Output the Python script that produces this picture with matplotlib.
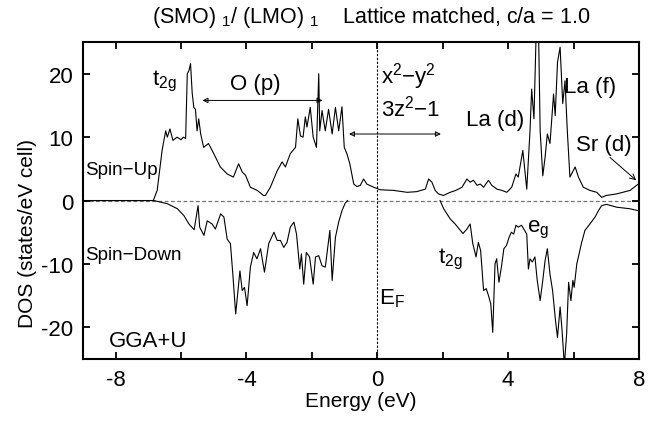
import numpy as np
import matplotlib
matplotlib.use("Agg")
import matplotlib.pyplot as plt
from matplotlib.ticker import MultipleLocator

plt.rcParams['font.family'] = ['Liberation Sans', 'DejaVu Sans']
plt.rcParams['mathtext.fontset'] = 'custom'
plt.rcParams['mathtext.rm'] = 'Liberation Sans'
plt.rcParams['mathtext.it'] = 'Liberation Sans:italic'
plt.rcParams['axes.unicode_minus'] = False

# spin-up DOS (energy in eV, states/eV cell)
e_up = [-9.0, -6.85, -6.73, -6.58, -6.47, -6.42, -6.34, -6.25, -6.12, -6.0, -5.93, -5.86,
        -5.81, -5.76, -5.71, -5.66, -5.61, -5.56, -5.51, -5.46, -5.40, -5.31, -5.16, -5.0,
        -4.8, -4.59, -4.4, -4.24, -4.13, -4.03, -3.88, -3.67, -3.48, -3.42, -3.27, -3.06,
        -2.91, -2.81, -2.66, -2.58, -2.50, -2.43, -2.35, -2.27, -2.20, -2.15, -2.05, -1.96,
        -1.86, -1.79, -1.76, -1.69, -1.59, -1.49, -1.38, -1.28, -1.18, -1.08, -1.01, -0.93,
        -0.84, -0.72, -0.62, -0.52, -0.42, -0.32, -0.11, 0.09, 0.5, 0.91, 1.2, 1.47,
        1.57, 1.67, 1.77, 1.87, 2.02, 2.23, 2.4, 2.59, 2.74, 2.84, 2.94, 3.05,
        3.15, 3.25, 3.40, 3.5, 3.66, 3.81, 3.96, 4.11, 4.24, 4.31, 4.45, 4.57,
        4.67, 4.72, 4.79, 4.86, 4.93, 4.98, 5.06, 5.13, 5.2, 5.28, 5.39, 5.44,
        5.51, 5.59, 5.67, 5.74, 5.81, 5.89, 5.97, 6.05, 6.15, 6.3, 6.5, 6.71,
        6.86, 7.0, 7.32, 7.73, 7.98, 8.0]
dos_up = [0, 0, 1.6, 7.9, 11.0, 10.0, 11.3, 9.5, 10.0, 9.6, 10.0, 9.8,
          20.0, 20.5, 21.6, 17.0, 14.7, 14.4, 11.0, 12.9, 10.5, 8.4, 9.0, 7.4,
          5.3, 4.2, 3.7, 5.8, 4.5, 4.0, 2.1, 1.6, 0.8, 0.8, 2.1, 4.7,
          6.1, 5.3, 7.4, 7.9, 8.4, 12.9, 10.2, 10.0, 13.2, 11.6, 14.7, 10.0,
          8.4, 20.0, 11.0, 14.2, 11.0, 14.4, 10.5, 14.7, 11.0, 14.8, 8.4, 7.4,
          5.8, 2.6, 2.2, 2.4, 3.4, 2.6, 2.1, 1.7, 1.6, 1.3, 1.4, 1.8,
          3.4, 2.9, 1.6, 1.05, 0.8, 1.3, 1.6, 2.1, 3.4, 2.9, 3.2, 2.4,
          2.6, 2.1, 3.2, 2.4, 1.8, 1.6, 1.3, 2.1, 4.2, 3.7, 7.9, 1.8,
          11.0, 17.6, 12.9, 27.0, 27.0, 11.0, 3.9, 6.8, 10.5, 9.0, 16.8, 13.4,
          21.8, 24.2, 15.3, 18.9, 11.0, 3.7, 4.5, 5.3, 3.7, 2.1, 1.6, 1.3,
          0.5, 0.8, 1.05, 1.6, 2.6, 2.6]

# spin-down DOS (gap between -0.91 and 1.92 eV left out)
e_dn = [-9.0, -6.83, -6.42, -6.11, -5.91, -5.76, -5.6, -5.48, -5.43, -5.3, -5.2, -5.05,
        -4.95, -4.79, -4.69, -4.59, -4.49, -4.41, -4.33, -4.2, -4.13, -4.06, -3.98, -3.88,
        -3.78, -3.68, -3.57, -3.45, -3.32, -3.16, -3.06, -2.96, -2.86, -2.76, -2.66, -2.55,
        -2.47, -2.37, -2.32, -2.25, -2.17, -2.07, -1.96, -1.89, -1.79, -1.69, -1.59, -1.45,
        -1.38, -1.28, -1.18, -1.08, -0.98, -0.91, 0.5, 1.92, 2.03, 2.23, 2.38, 2.62,
        2.74, 2.84, 2.92, 3.02, 3.09, 3.16, 3.25, 3.33, 3.40, 3.47, 3.53, 3.6,
        3.65, 3.72, 3.8, 3.87, 3.95, 4.03, 4.1, 4.17, 4.24, 4.31, 4.41, 4.48,
        4.57, 4.62, 4.67, 4.74, 4.82, 4.89, 4.98, 5.06, 5.13, 5.2, 5.28, 5.36,
        5.45, 5.51, 5.59, 5.65, 5.72, 5.79, 5.85, 5.92, 5.98, 6.02, 6.1, 6.25,
        6.35, 6.5, 6.66, 6.76, 6.86, 7.01, 7.32, 7.73, 7.98, 8.0]
dos_dn = [0, 0, -0.5, -1.3, -2.4, -3.7, -4.6, -0.8, -4.2, -5.5, -3.2, -3.7,
          -4.5, -2.1, -2.6, -6.1, -6.8, -12.1, -17.9, -11.1, -14.2, -13.7, -16.6, -10.5,
          -8.2, -9.2, -7.6, -11.3, -6.8, -5.0, -6.3, -6.3, -7.4, -6.6, -4.2, -3.4,
          -5.3, -10.8, -8.4, -13.2, -8.2, -8.9, -13.2, -8.9, -8.7, -10.3, -10.5, -4.7,
          -12.6, -5.8, -3.4, -1.6, -0.4, 0, np.nan, 0, -1.3, -2.9, -3.7, -5.2,
          -4.5, -3.7, -6.8, -8.9, -6.6, -7.9, -14.2, -13.9, -15.0, -16.3, -20.8, -10.0,
          -9.2, -12.9, -10.3, -7.6, -7.1, -5.8, -5.0, -5.3, -3.9, -4.2, -3.9, -4.5,
          -5.3, -10.8, -9.2, -9.7, -8.9, -12.6, -15.8, -12.6, -9.5, -7.6, -11.6, -14.2,
          -19.0, -21.6, -16.8, -20.5, -26.0, -21.0, -12.9, -15.8, -12.6, -13.7, -10.0, -6.6,
          -4.7, -3.7, -2.6, -1.6, -0.8, -0.6, -1.05, -1.3, -1.6, -1.6]

fig = plt.figure(figsize=(6.48, 4.27), dpi=100)
ax = fig.add_axes([0.128, 0.157, 0.858, 0.742])

ax.axhline(0, color='0.45', lw=0.9, ls=(0, (3, 2)), zorder=1)
ax.axvline(0, color='black', lw=0.8, ls=(0, (2, 1.5)), zorder=1)
ax.plot(e_up, dos_up, color='black', lw=0.8, zorder=2)
ax.plot(e_dn, dos_dn, color='black', lw=0.8, zorder=2)

ax.set_xlim(-9, 8)
ax.set_ylim(-25, 25)
ax.set_xticks([-8, -4, 0, 4, 8])
ax.xaxis.set_minor_locator(MultipleLocator(2))
ax.set_yticks([-20, -10, 0, 10, 20])
ax.tick_params(which='both', direction='in', top=True, right=True, length=5, width=1.3,
               labelsize=16, pad=7)
for s in ax.spines.values():
    s.set_linewidth(1.5)

ax.set_xlabel('Energy (eV)', fontsize=15, labelpad=1)
ax.set_ylabel('DOS (states/eV cell)', fontsize=15)
ax.yaxis.set_label_coords(-0.082, 0.40)

fig.text(0.573, 0.946, r'(SMO) $_1$/ (LMO) $_1$    Lattice matched, c/a = 1.0',
         fontsize=15.5, ha='center', va='baseline')

fs = 16
ax.text(-6.9, 18.3, r't$_{\mathrm{2g}}$', fontsize=fs)
ax.text(-3.72, 17.6, 'O (p)', fontsize=fs, ha='center')
ax.annotate('', xy=(-5.43, 15.8), xytext=(-1.59, 15.8),
            arrowprops=dict(arrowstyle='<|-|>', lw=0.7, color='black',
                            mutation_scale=8, fill=False))
ax.text(0.12, 18.6, r'x$^2$$-$y$^2$', fontsize=fs)
ax.text(0.12, 13.4, r'3z$^2$$-$1', fontsize=fs)
ax.annotate('', xy=(-0.95, 10.5), xytext=(2.03, 10.5),
            arrowprops=dict(arrowstyle='<|-|>', lw=0.7, color='black',
                            mutation_scale=8, fill=False))
ax.text(3.6, 12.0, 'La (d)', fontsize=fs, ha='center')
ax.text(6.5, 17.2, 'La (f)', fontsize=fs, ha='center')
ax.text(6.93, 7.9, 'Sr (d)', fontsize=fs, ha='center')
ax.annotate('', xy=(7.98, 2.9), xytext=(7.05, 7.1),
            arrowprops=dict(arrowstyle='->', lw=0.7, color='black'))
ax.text(-8.93, 4.2, 'Spin\u2212Up', fontsize=13.5)
ax.text(-8.93, -9.2, 'Spin\u2212Down', fontsize=13.5)
ax.text(-8.2, -22.9, 'GGA+U', fontsize=fs)
ax.text(0.05, -16.3, r'E$_{\mathrm{F}}$', fontsize=fs)
ax.text(1.86, -9.7, r't$_{\mathrm{2g}}$', fontsize=fs)
ax.text(4.58, -4.8, r'e$_{\mathrm{g}}$', fontsize=fs)

fig.savefig('out.png', dpi=100)
